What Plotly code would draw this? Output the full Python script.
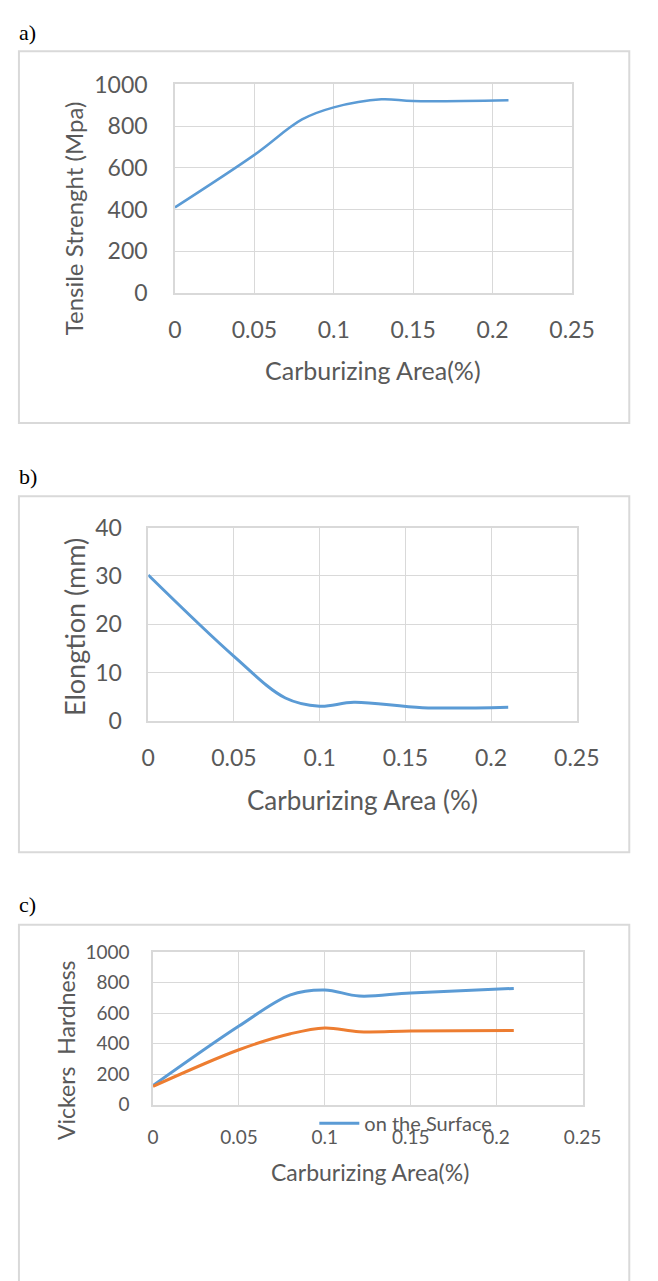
import plotly.graph_objects as go

# ---------------- data ----------------
x_a = [0, 0.05, 0.08, 0.10, 0.13, 0.15, 0.21]
tensile = [410, 662, 832, 890, 929, 920, 924]

x_b = [0, 0.05, 0.08, 0.10, 0.12, 0.16, 0.21]
elongation = [30.2, 13.4, 4.8, 3.1, 3.9, 2.8, 2.9]

x_c = [0, 0.05, 0.08, 0.10, 0.12, 0.15, 0.21]
hv_surface = [125, 515, 720, 752, 712, 732, 762]
hv_core = [120, 360, 465, 503, 478, 482, 486]

x_ticks = [0, 0.05, 0.1, 0.15, 0.2, 0.25]
x_tick_text = ["0", "0.05", "0.1", "0.15", "0.2", "0.25"]

# ---------------- layout helpers ----------------
W, H = 658, 1281
def fx(p):
    return p / W
def fy(p):
    return 1 - p / H

FONT = "Lato"
TXT = "#595959"
GRID = "#d9d9d9"
BLUE = "#5B9BD5"
ORANGE = "#ED7D31"

fig = go.Figure()
fig.add_trace(go.Scatter(x=x_a, y=tensile, mode="lines", line=dict(color=BLUE, width=2.5, shape="spline", smoothing=1.0),
                         xaxis="x", yaxis="y", showlegend=False))
fig.add_trace(go.Scatter(x=x_b, y=elongation, mode="lines", line=dict(color=BLUE, width=3, shape="spline", smoothing=1.0),
                         xaxis="x2", yaxis="y2", showlegend=False))
fig.add_trace(go.Scatter(x=x_c, y=hv_surface, mode="lines", name="on the Surface",
                         line=dict(color=BLUE, width=3, shape="spline", smoothing=1.0),
                         xaxis="x3", yaxis="y3", showlegend=True))
fig.add_trace(go.Scatter(x=x_c, y=hv_core, mode="lines", name="core",
                         line=dict(color=ORANGE, width=3, shape="spline", smoothing=1.0),
                         xaxis="x3", yaxis="y3", showlegend=False))

def xax(domain, anchor, fs, standoff):
    return dict(domain=domain, anchor=anchor, range=[0, 0.25], tickvals=x_ticks, ticktext=x_tick_text,
                showgrid=True, gridcolor=GRID, gridwidth=1, zeroline=False,
                showline=True, mirror=True, linecolor=GRID, linewidth=1.5,
                ticks="", tickfont=dict(family=FONT, size=fs, color=TXT), ticklabelstandoff=standoff,
                fixedrange=True)

def yax(domain, anchor, rng, dt, fs, standoff):
    return dict(domain=domain, anchor=anchor, range=rng, dtick=dt, tick0=0,
                showgrid=True, gridcolor=GRID, gridwidth=1, zeroline=False,
                showline=True, mirror=True, linecolor=GRID, linewidth=1.5,
                ticks="", tickfont=dict(family=FONT, size=fs, color=TXT), ticklabelstandoff=standoff,
                fixedrange=True)

# plot areas (pixels)
A = dict(l=176, r=592, t=71, b=284)
B = dict(l=148, r=597, t=524, b=722)
C = dict(l=153, r=603, t=958, b=1114)

fig.update_layout(
    width=W, height=H, margin=dict(l=0, r=0, t=0, b=0),
    paper_bgcolor="white", plot_bgcolor="white",
    xaxis=xax([fx(A["l"]), fx(A["r"])], "y", 23, 16),
    yaxis=yax([fy(A["b"]), fy(A["t"])], "x", [0, 1000], 200, 23, 21),
    xaxis2=xax([fx(B["l"]), fx(B["r"])], "y2", 23, 15),
    yaxis2=yax([fy(B["b"]), fy(B["t"])], "x2", [0, 40], 10, 23, 20),
    xaxis3=xax([fx(C["l"]), fx(C["r"])], "y3", 19, 15),
    yaxis3=yax([fy(C["b"]), fy(C["t"])], "x3", [0, 1000], 200, 19, 18),
    legend=dict(x=fx(322), y=fy(1133), xanchor="left", yanchor="middle",
                bgcolor="rgba(0,0,0,0)", font=dict(family=FONT, size=20, color=TXT),
                itemwidth=40),
)

# panel frames
for (t, b) in [(37, 417), (492, 856), (930, 1300)]:
    fig.add_shape(type="rect", xref="paper", yref="paper",
                  x0=fx(12.5), x1=fx(652), y0=fy(b), y1=fy(t),
                  line=dict(color=GRID, width=2), fillcolor="rgba(0,0,0,0)", layer="below")

ann = []
# panel labels
for lab, yc in [("a)", 18), ("b)", 472), ("c)", 909)]:
    ann.append(dict(text=lab, x=fx(11), y=fy(yc), xref="paper", yref="paper", xanchor="left", yanchor="middle",
                    showarrow=False, font=dict(family="Liberation Serif", size=22, color="black")))
# x titles
for txt, xc, yc, fs in [("Carburizing Area(%)", 383, 363, 25),
                        ("Carburizing Area (%)", 373, 803, 26),
                        ("Carburizing Area(%)", 380, 1183, 23)]:
    ann.append(dict(text=txt, x=fx(xc), y=fy(yc), xref="paper", yref="paper", xanchor="center", yanchor="middle",
                    showarrow=False, font=dict(family=FONT, size=fs, color=TXT)))
# y titles
for txt, xc, yc, fs in [("Tensile Strenght (Mpa)", 70, 208, 24),
                        ("Elongtion (mm)", 71, 626, 27),
                        ("Vickers  Hardness", 62, 1058, 23)]:
    ann.append(dict(text=txt, x=fx(xc), y=fy(yc), xref="paper", yref="paper", xanchor="center", yanchor="middle",
                    textangle=-90, showarrow=False, font=dict(family=FONT, size=fs, color=TXT)))
fig.update_layout(annotations=ann)

fig.write_html("out.html")
